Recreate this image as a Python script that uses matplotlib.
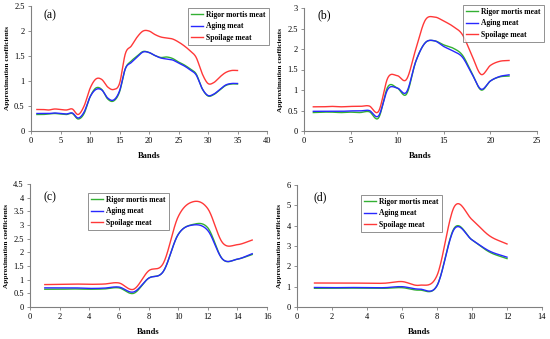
import numpy as np
import matplotlib
matplotlib.use("Agg")
import matplotlib.pyplot as plt
from matplotlib.ticker import FuncFormatter, MultipleLocator

plt.rcParams['font.family'] = ['Liberation Serif', 'DejaVu Serif']

series_names = ["Rigor mortis meat", "Aging meat", "Spoilage meat"]
series_colors = ["#33b033", "#2828ff", "#ff3838"]

# Panel (a)
a_rigor = [0.33, 0.33, 0.34, 0.35, 0.34, 0.33, 0.35, 0.24, 0.35, 0.68, 0.86, 0.83, 0.64, 0.60, 0.78,
           1.25, 1.40, 1.50, 1.59, 1.57, 1.51, 1.47, 1.48, 1.45, 1.38, 1.32, 1.24, 1.14, 0.85, 0.70,
           0.73, 0.82, 0.91, 0.94, 0.94]
a_aging = [0.35, 0.35, 0.35, 0.36, 0.35, 0.34, 0.36, 0.26, 0.38, 0.68, 0.83, 0.82, 0.66, 0.62, 0.80,
           1.25, 1.37, 1.48, 1.58, 1.57, 1.51, 1.46, 1.44, 1.42, 1.36, 1.30, 1.22, 1.12, 0.85, 0.71,
           0.74, 0.83, 0.92, 0.95, 0.95]
a_spoil = [0.43, 0.43, 0.42, 0.44, 0.43, 0.42, 0.44, 0.33, 0.50, 0.85, 1.04, 1.03, 0.88, 0.83, 0.95,
           1.55, 1.70, 1.88, 2.00, 2.00, 1.93, 1.88, 1.86, 1.84, 1.78, 1.70, 1.60, 1.47, 1.15, 0.95,
           0.97, 1.08, 1.17, 1.21, 1.21]

# Panel (b)
b_rigor = [0.45, 0.46, 0.46, 0.45, 0.46, 0.45, 0.47, 0.32, 1.08, 1.05, 0.90, 1.70, 2.15, 2.20, 2.10,
           2.02, 1.85, 1.42, 1.00, 1.22, 1.32, 1.34]
b_aging = [0.48, 0.48, 0.48, 0.48, 0.49, 0.49, 0.50, 0.37, 1.02, 1.05, 0.95, 1.70, 2.15, 2.20, 2.06,
           1.95, 1.80, 1.40, 1.02, 1.22, 1.33, 1.37]
b_spoil = [0.59, 0.59, 0.60, 0.59, 0.60, 0.60, 0.61, 0.48, 1.30, 1.35, 1.26, 2.00, 2.70, 2.78, 2.68,
           2.55, 2.35, 1.85, 1.38, 1.60, 1.70, 1.72]

# Panel (c)
c_rigor = [0.65, 0.65, 0.66, 0.65, 0.66, 0.70, 0.50, 1.05, 1.30, 2.65, 3.02, 2.90, 1.75, 1.75, 1.92]
c_aging = [0.70, 0.70, 0.70, 0.68, 0.69, 0.73, 0.55, 1.05, 1.30, 2.65, 3.00, 2.80, 1.75, 1.75, 1.95]
c_spoil = [0.82, 0.83, 0.84, 0.83, 0.84, 0.88, 0.65, 1.32, 1.60, 3.30, 3.85, 3.60, 2.35, 2.28, 2.45]

# Panel (d)
d_rigor = [0.92, 0.92, 0.93, 0.92, 0.92, 0.95, 0.83, 1.05, 3.90, 3.30, 2.70, 2.38]
d_aging = [0.96, 0.95, 0.96, 0.95, 0.95, 1.00, 0.88, 1.05, 3.85, 3.30, 2.75, 2.45]
d_spoil = [1.18, 1.18, 1.18, 1.17, 1.17, 1.25, 1.07, 1.55, 4.95, 4.30, 3.50, 3.10]

panel_labels = ["(a)", "(b)", "(c)", "(d)"]
x_label = "Bands"
y_label = "Approximation coefficients"


def smooth(x, y, n=20):
    # Catmull-Rom style smoothing (like spreadsheet "smoothed line")
    x = np.asarray(x, float)
    y = np.asarray(y, float)
    px = np.concatenate([[2 * x[0] - x[1]], x, [2 * x[-1] - x[-2]]])
    py = np.concatenate([[2 * y[0] - y[1]], y, [2 * y[-1] - y[-2]]])
    xs, ys = [], []
    t = np.linspace(0, 1, n, endpoint=False)
    for i in range(1, len(px) - 2):
        for arr, out in ((px, xs), (py, ys)):
            p0, p1, p2, p3 = arr[i - 1], arr[i], arr[i + 1], arr[i + 2]
            m1 = (p2 - p0) / 2.0
            m2 = (p3 - p1) / 2.0
            h00 = 2 * t**3 - 3 * t**2 + 1
            h10 = t**3 - 2 * t**2 + t
            h01 = -2 * t**3 + 3 * t**2
            h11 = t**3 - t**2
            out.extend(h00 * p1 + h10 * m1 + h01 * p2 + h11 * m2)
    xs.append(x[-1])
    ys.append(y[-1])
    return np.array(xs), np.array(ys)


fig = plt.figure(figsize=(5.5, 3.39), dpi=100)
W, H = 550, 339

# axes rects in pixels: left, right, top, bottom
rects = [(31, 267, 6, 131), (304, 537, 8, 131), (30, 267, 184, 307), (297, 542, 185, 307)]
panels = [
    (a_rigor, a_aging, a_spoil, (0, 40), 5, (0, 2.5), 0.5),
    (b_rigor, b_aging, b_spoil, (0, 25), 5, (0, 3), 0.5),
    (c_rigor, c_aging, c_spoil, (0, 16), 2, (0, 4.5), 0.5),
    (d_rigor, d_aging, d_spoil, (0, 14), 2, (0, 6), 1),
]
# (anchor x, anchor y, loc)
legend_boxes = [(269, 8, "upper right"), (544, 5, "upper right"),
                (88, 193, "upper left"), (361, 195, "upper left")]
label_pos = [(43, 15), (317, 15), (43, 197), (313, 197)]

fmt = FuncFormatter(lambda v, p: "{:g}".format(round(v, 3)))

for k, (rect, pan) in enumerate(zip(rects, panels)):
    l, r, t, b = rect
    ax = fig.add_axes([l / W, 1 - b / H, (r - l) / W, (b - t) / H])
    data = pan[:3]
    for vals, name, col in zip(data, series_names, series_colors):
        xs = np.arange(1, len(vals) + 1)
        sx, sy = smooth(xs, vals)
        ax.plot(sx, sy, color=col, lw=1.0, label=name)
    ax.set_xlim(*pan[3])
    ax.xaxis.set_major_locator(MultipleLocator(pan[4]))
    ax.set_ylim(*pan[5])
    ax.yaxis.set_major_locator(MultipleLocator(pan[6]))
    ax.xaxis.set_major_formatter(fmt)
    ax.yaxis.set_major_formatter(fmt)
    for s in ("top", "right"):
        ax.spines[s].set_visible(False)
    for s in ("left", "bottom"):
        ax.spines[s].set_color("#808080")
        ax.spines[s].set_linewidth(0.8)
    ax.tick_params(direction="out", length=2.5, width=0.6, color="#808080",
                   labelsize=6, pad=2)
    ax.set_xlabel(x_label, fontsize=6, fontweight="bold", labelpad=5)
    ax.set_ylabel(y_label, fontsize=5.2, fontweight="bold", labelpad=3)
    lx, ly = label_pos[k]
    fig.text(lx / W, 1 - ly / H, panel_labels[k], fontsize=8.5, ha="left", va="center")
    bx, by, loc = legend_boxes[k]
    leg = fig.legend(*ax.get_legend_handles_labels(), loc=loc,
                     bbox_to_anchor=(bx / W, 1 - by / H),
                     prop={"size": 5.5, "weight": "bold", "family": "Liberation Serif"},
                     frameon=True, fancybox=False, handlelength=1.6,
                     handletextpad=0.4, borderpad=0.4, labelspacing=0.45,
                     borderaxespad=0)
    leg.get_frame().set_edgecolor("#606060")
    leg.get_frame().set_linewidth(0.6)

fig.savefig("out.png", dpi=100)
